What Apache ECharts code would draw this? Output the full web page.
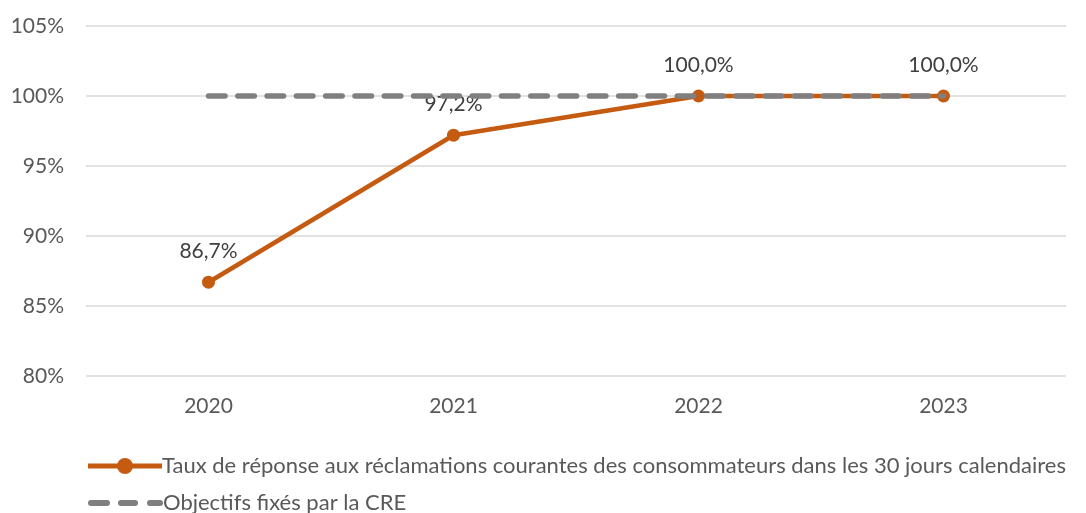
<!DOCTYPE html>
<html>
<head>
<meta charset="utf-8">
<script src="https://cdn.jsdelivr.net/npm/echarts@6/dist/echarts.min.js"></script>
<style>
  html, body { margin: 0; padding: 0; background: #fff; }
  #chart { width: 1086px; height: 513px; }
</style>
</head>
<body>
<div id="chart"></div>
<script>
// données
let years = ['2020', '2021', '2022', '2023']
let tauxReponse = [86.7, 97.2, 100.0, 100.0]
let objectifs = [100, 100, 100, 100]
let nomTaux = 'Taux de réponse aux réclamations courantes des consommateurs dans les 30 jours calendaires'
let nomObjectif = 'Objectifs fixés par la CRE'

let font = 'Lato, "Open Sans", sans-serif'
let fs = 21
// icônes de légende
let iconTaux = 'path://M0,5.5 H30 V10.5 H0 Z M44,5.5 H74 V10.5 H44 Z M29,8 A8,8 0 1 1 45,8 A8,8 0 1 1 29,8 Z'
let iconObj = 'path://M3,0 H19 A3,3 0 0 1 19,6 H3 A3,3 0 0 1 3,0 Z' +
  ' M33,0 H47 A3,3 0 0 1 47,6 H33 A3,3 0 0 1 33,0 Z' +
  ' M62,0 H72 A3,3 0 0 1 72,6 H62 A3,3 0 0 1 62,0 Z'

let legendText = { fontSize: 22, color: '#595959', fontFamily: font, padding: [0, 0, 0, -5] }
let myChart = echarts.init(document.getElementById('chart'))
let option = {
  animation: false,
  textStyle: { fontFamily: font },
  grid: { left: 86, right: 20, top: 26, bottom: 137 },
  legend: [
    {
      left: 83,
      top: 450,
      itemGap: 0,
      itemWidth: 74,
      itemHeight: 16,
      textStyle: legendText,
      data: [{ name: nomTaux, icon: iconTaux, itemStyle: { color: '#c55a11' } }]
    },
    {
      left: 83,
      top: 487,
      itemGap: 0,
      itemWidth: 75,
      itemHeight: 6,
      textStyle: legendText,
      data: [{ name: nomObjectif, icon: iconObj, itemStyle: { color: '#7f7f7f' } }]
    }
  ],
  xAxis: {
    type: 'category',
    data: years,
    axisLine: { show: false },
    axisTick: { show: false },
    axisLabel: { fontSize: fs, color: '#595959', margin: 20 }
  },
  yAxis: {
    type: 'value',
    min: 80,
    max: 105,
    interval: 5,
    axisLabel: { formatter: '{value}%', fontSize: fs, color: '#595959', margin: 22 },
    splitLine: { lineStyle: { color: '#d9d9d9', width: 1.5 } }
  },
  series: [
    {
      name: nomTaux,
      type: 'line',
      data: tauxReponse,
      symbol: 'circle',
      symbolSize: 13,
      color: '#c55a11',
      lineStyle: { width: 4.5, color: '#c55a11' },
      itemStyle: { color: '#c55a11' },
      label: {
        show: true,
        position: 'top',
        distance: 14,
        fontSize: fs,
        color: '#404040',
        formatter: function (p) {
          return p.value.toFixed(1).replace('.', ',') + '%'
        }
      },
      z: 2
    },
    {
      name: nomObjectif,
      type: 'line',
      data: objectifs,
      symbol: 'none',
      color: '#7f7f7f',
      lineStyle: { width: 5.5, color: '#7f7f7f', type: [16.5, 12.8], cap: 'round' },
      z: 3
    }
  ]
}
myChart.setOption(option)
</script>
</body>
</html>
